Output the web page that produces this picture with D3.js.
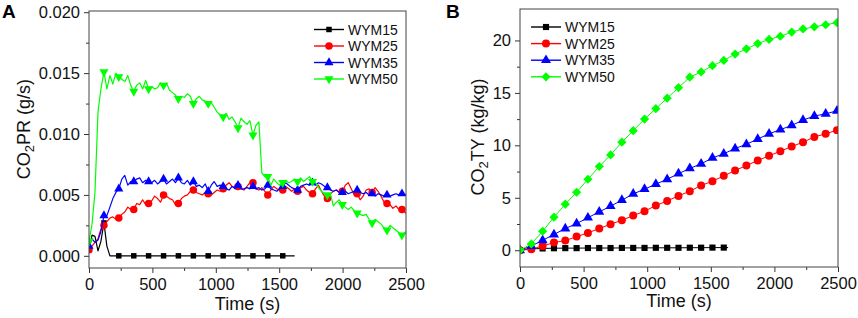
<!DOCTYPE html>
<html><head><meta charset="utf-8">
<script src="https://cdn.jsdelivr.net/npm/d3@7"></script>
<style>
body{margin:0;background:#fff}
svg{display:block}
text{font-family:Arial,"Liberation Sans",sans-serif}
</style>
</head><body>
<svg id="c" width="858" height="318"></svg>
<script>
// ---------- Panel A data: CO2 production rate (g/s) ----------
const tA = [0,24,47,71,94,118,141,165,188,212,235,259,282,306,329,353,376,400,423,447,
  470,494,517,541,564,588,611,635,658,682,705,729,752,776,799,823,846,870,893,917,
  940,964,987,1011,1034,1058,1081,1105,1128,1152,1175,1199,1222,1246,1269,1293,1316,1340,1363,1387,
  1410,1434,1457,1481,1504,1528,1551,1575,1598,1622,1645,1669,1692,1716,1739,1763,1786,1810,1833,1857,
  1880,1904,1927,1951,1974,1998,2021,2045,2068,2092,2115,2139,2162,2186,2209,2233,2256,2280,2303,2327,
  2350,2374,2397,2421,2444,2468,2500];
const wym15A = [0.0005,0.0017,0.0016,0.0004,0.0012,0.0027,0.0008,0,0,0,
  0,0,0,0,0,0,0,0,0,0,
  0,0,0,0,0,0,0,0,0,0,
  0,0,0,0,0,0,0,0,0,0,
  0,0,0,0,0,0,0,0,0,0,
  0,0,0,0,0,0,0,0,0,0,
  0,0,0,0,0,0,0,0,0,0];
const wym25A = [0.0005,0.0008,0.0011,0.0014,0.0022,0.0025,0.0028,0.0031,0.0032,0.0030,
  0.0031,0.0034,0.0036,0.0040,0.0038,0.0038,0.0043,0.0042,0.0046,0.0042,
  0.0043,0.0045,0.0049,0.0047,0.0044,0.0050,0.0049,0.0047,0.0046,0.0042,
  0.0043,0.0047,0.0049,0.0050,0.0053,0.0054,0.0052,0.0051,0.0050,0.0052,
  0.0051,0.0050,0.0052,0.0054,0.0053,0.0055,0.0058,0.0060,0.0057,0.0056,
  0.0057,0.0055,0.0054,0.0057,0.0060,0.0060,0.0055,0.0054,0.0056,0.0053,
  0.0050,0.0054,0.0057,0.0055,0.0054,0.0054,0.0057,0.0055,0.0053,0.0055,
  0.0053,0.0056,0.0057,0.0054,0.0052,0.0051,0.0055,0.0058,0.0053,0.0049,
  0.0047,0.0051,0.0053,0.0054,0.0052,0.0053,0.0058,0.0060,0.0055,0.0050,
  0.0051,0.0046,0.0049,0.0054,0.0055,0.0052,0.0056,0.0053,0.0049,0.0044,
  0.0043,0.0042,0.0039,0.0041,0.0038,0.0038,0.0035];
const wym35A = [0.0008,0.0014,0.0011,0.0013,0.0020,0.0033,0.0033,0.0040,0.0047,0.0052,
  0.0055,0.0063,0.0066,0.0058,0.0061,0.0061,0.0063,0.0064,0.0060,0.0062,
  0.0061,0.0060,0.0062,0.0059,0.0061,0.0063,0.0059,0.0061,0.0063,0.0060,
  0.0064,0.0060,0.0059,0.0062,0.0058,0.0061,0.0057,0.0058,0.0056,0.0059,
  0.0053,0.0058,0.0061,0.0057,0.0058,0.0057,0.0055,0.0054,0.0057,0.0055,
  0.0058,0.0055,0.0055,0.0056,0.0055,0.0057,0.0055,0.0056,0.0054,0.0055,
  0.0058,0.0055,0.0054,0.0053,0.0055,0.0057,0.0060,0.0058,0.0056,0.0055,
  0.0054,0.0057,0.0058,0.0059,0.0058,0.0060,0.0058,0.0060,0.0059,0.0057,
  0.0056,0.0054,0.0053,0.0054,0.0052,0.0052,0.0053,0.0051,0.0052,0.0053,
  0.0054,0.0052,0.0051,0.0052,0.0050,0.0051,0.0049,0.0051,0.0050,0.0049,
  0.0050,0.0049,0.0050,0.0051,0.0050,0.0051,0.0050];
const wym50A = [0.0012,0.0026,0.0052,0.0118,0.0137,0.0151,0.0137,0.0148,0.0141,0.0150,
  0.0147,0.0145,0.0143,0.0148,0.0140,0.0135,0.0140,0.0142,0.0137,0.0144,
  0.0137,0.0139,0.0137,0.0138,0.0142,0.0140,0.0142,0.0136,0.0134,0.0132,
  0.0129,0.0131,0.0130,0.0133,0.0131,0.0125,0.0129,0.0131,0.0128,0.0127,
  0.0125,0.0126,0.0122,0.0118,0.0116,0.0114,0.0117,0.0112,0.0114,0.0110,
  0.0105,0.0113,0.0110,0.0108,0.0111,0.0099,0.0107,0.0110,0.0068,0.0065,
  0.0065,0.0058,0.0063,0.0060,0.0058,0.0060,0.0062,0.0060,0.0061,0.0063,
  0.0061,0.0064,0.0061,0.0063,0.0065,0.0061,0.0060,0.0056,0.0053,0.0051,
  0.0050,0.0051,0.0041,0.0044,0.0046,0.0042,0.0040,0.0038,0.0040,0.0037,
  0.0035,0.0034,0.0033,0.0034,0.0030,0.0027,0.0030,0.0028,0.0026,0.0023,
  0.0021,0.0025,0.0023,0.0021,0.0019,0.0017,0.0020];

// ---------- Panel B data: CO2 total yield (kg/kg) ----------
const tB = [0,89,178,267,356,445,534,623,712,801,890,979,1068,1157,1246,1335,1424,1513,1602,
  1691,1780,1869,1958,2047,2136,2225,2314,2403,2492];
const wym15B = [0,0.12,0.17,0.19,0.20,0.20,0.21,0.21,0.21,0.22,0.22,0.22,0.23,0.23,0.23,0.24,0.24,0.25,0.25];
const wym15BEnd = 1636;
const wym25B = [0,0.1,0.4,0.73,0.92,1.3,1.65,2.07,2.48,2.86,3.3,3.72,4.26,4.7,5.18,5.63,6.17,6.58,7.09,
  7.6,8.08,8.55,9.0,9.44,9.89,10.3,10.8,11.1,11.45];
const wym35B = [0,0.4,0.95,1.5,2.07,2.54,3.1,3.66,4.2,4.77,5.37,5.82,6.3,6.77,7.3,7.8,8.24,8.8,9.2,
  9.7,10.1,10.6,11.1,11.5,11.9,12.4,12.8,13.0,13.3];
const wym50B = [0,0.6,1.81,3.15,4.39,5.53,6.77,7.98,9.09,10.3,11.4,12.5,13.5,14.5,15.5,16.5,17.0,17.6,18.1,
  18.7,19.2,19.7,20.1,20.4,20.8,21.1,21.3,21.5,21.7];

const seriesNames = ["WYM15","WYM25","WYM35","WYM50"];
const xTicks = [0,500,1000,1500,2000,2500];
const xMinor = [250,750,1250,1750,2250];
const yTicksA = [0,0.005,0.010,0.015,0.020];
const yMinorA = [0.0025,0.0075,0.0125,0.0175];
const yTicksB = [0,5,10,15,20];
const yMinorB = [2.5,7.5,12.5,17.5];

const colors = ["#000000","#ff0000","#0000ff","#00ff00"];

const svg = d3.select("#c");

function sym(kind, size) {
  const map = {square: d3.symbolSquare, circle: d3.symbolCircle, tri: d3.symbolTriangle,
               tridown: d3.symbolTriangle, diamond: d3.symbolSquare};
  return d3.symbol().type(map[kind]).size(size)();
}
function symRot(kind){ return kind==="tridown" ? 180 : (kind==="diamond" ? 45 : 0); }

function panel(cfg) {
  const g = svg.append("g");
  const x = d3.scaleLinear().domain([0,2500]).range([cfg.l, cfg.r]);
  const y = d3.scaleLinear().domain(cfg.yDom).range([cfg.b, cfg.t]);

  const xa = g.append("g").attr("transform", `translate(0,${cfg.b})`)
    .call(d3.axisBottom(x).tickValues(xTicks).tickSize(5).tickPadding(5).tickFormat(d3.format("d")));
  const xm = g.append("g").attr("transform", `translate(0,${cfg.b})`)
    .call(d3.axisBottom(x).tickValues(xMinor).tickSize(3).tickFormat(""));
  const ya = g.append("g").attr("transform", `translate(${cfg.l},0)`)
    .call(d3.axisLeft(y).tickValues(cfg.yTicks).tickSize(5).tickPadding(4).tickFormat(cfg.yFmt));
  const ym = g.append("g").attr("transform", `translate(${cfg.l},0)`)
    .call(d3.axisLeft(y).tickValues(cfg.yMinor).tickSize(3).tickFormat(""));
  [xa,xm,ya,ym].forEach(a => {
    a.select(".domain").remove();
    a.selectAll("line").attr("stroke","#333").attr("stroke-width",1);
    a.selectAll("text").attr("font-size",16.5).attr("fill","#111")
      .attr("font-family","Arial, 'Liberation Sans', sans-serif");
  });

  const cid = "clip"+cfg.id;
  svg.append("clipPath").attr("id",cid).append("rect")
    .attr("x",cfg.l).attr("y",cfg.t).attr("width",cfg.r-cfg.l).attr("height",cfg.b-cfg.t);
  const plot = g.append("g").attr("clip-path",`url(#${cid})`);

  cfg.series.forEach((s,si) => {
    const pts = s.v.map((v,i)=>[s.t[i], v]);
    const linePts = s.extra ? pts.concat([s.extra]) : pts;
    plot.append("path").datum(linePts)
      .attr("fill","none").attr("stroke",colors[si]).attr("stroke-width",cfg.lw)
      .attr("stroke-linejoin","round")
      .attr("d", d3.line().x(d=>x(d[0])).y(d=>y(d[1])));
    const mk = pts.filter((d,i)=> i % s.every === 0);
    plot.selectAll(null).data(mk).enter().append("path")
      .attr("d", sym(s.kind, s.size))
      .attr("fill", colors[si])
      .attr("transform", d=>`translate(${x(d[0])},${y(d[1])}) rotate(${symRot(s.kind)})`);
  });

  g.append("rect").attr("x",cfg.l).attr("y",cfg.t).attr("width",cfg.r-cfg.l).attr("height",cfg.b-cfg.t)
    .attr("fill","none").attr("stroke","#444").attr("stroke-width",1);

  const L = cfg.legend;
  cfg.series.forEach((s,si)=>{
    const yy = L.y0 + si*L.dy;
    g.append("line").attr("x1",L.x0).attr("x2",L.x1).attr("y1",yy).attr("y2",yy)
      .attr("stroke",colors[si]).attr("stroke-width",1.4);
    g.append("path").attr("d", sym(s.kind, s.lsize||s.size)).attr("fill",colors[si])
      .attr("transform",`translate(${(L.x0+L.x1)/2},${yy}) rotate(${symRot(s.kind)})`);
    g.append("text").attr("x",L.tx).attr("y",yy).attr("dy","0.36em")
      .attr("font-size",14).attr("fill","#111").text(seriesNames[si]);
  });

  g.append("text").attr("x",(cfg.l+cfg.r)/2).attr("y",cfg.xTitleY).attr("text-anchor","middle")
    .attr("font-size",18).attr("fill","#111").text("Time (s)");
  const yt = g.append("text").attr("transform",`translate(${cfg.yTitleX},${cfg.yTitleY}) rotate(-90)`)
    .attr("text-anchor","middle").attr("font-size",18).attr("fill","#111");
  yt.append("tspan").text("CO");
  yt.append("tspan").attr("font-size",13).attr("dy",4).text("2");
  yt.append("tspan").attr("dy",-4).text(cfg.yTitleRest);
  g.append("text").attr("x",cfg.letterX).attr("y",cfg.letterY).attr("font-size",19)
    .attr("font-weight","bold").attr("fill","#000").text(cfg.letter);
}

panel({
  id:"A", l:89, r:406, t:11, b:268, yDom:[-0.001,0.0201],
  yTicks:yTicksA, yMinor:yMinorA, yFmt:d3.format(".3f"), lw:1.2,
  series:[
    {t:tA, v:wym15A, kind:"square", size:30, every:5},
    {t:tA, v:wym25A, kind:"circle", size:44, every:5},
    {t:tA, v:wym35A, kind:"tri", size:36, every:5},
    {t:tA, v:wym50A, kind:"tridown", size:36, every:5}
  ],
  legend:{x0:314, x1:344, tx:348, y0:29.5, dy:16.5},
  xTitleY:310, yTitleX:30, yTitleY:129, yTitleRest:"PR (g/s)",
  letter:"A", letterX:2, letterY:18
});

panel({
  id:"B", l:520, r:838, t:9, b:267, yDom:[-1.6,23],
  yTicks:yTicksB, yMinor:yMinorB, yFmt:d3.format("d"), lw:1,
  series:[
    {t:tB, v:wym15B, kind:"square", size:38, every:1, extra:[wym15BEnd, 0.25]},
    {t:tB, v:wym25B, kind:"circle", size:50, every:1},
    {t:tB, v:wym35B, kind:"tri", size:44, every:1},
    {t:tB, v:wym50B, kind:"diamond", size:42, every:1}
  ],
  legend:{x0:531, x1:561, tx:565, y0:27, dy:16.6},
  xTitleY:307, yTitleX:484, yTitleY:137, yTitleRest:"TY (kg/kg)",
  letter:"B", letterX:446, letterY:18
});
</script>
</body></html>
